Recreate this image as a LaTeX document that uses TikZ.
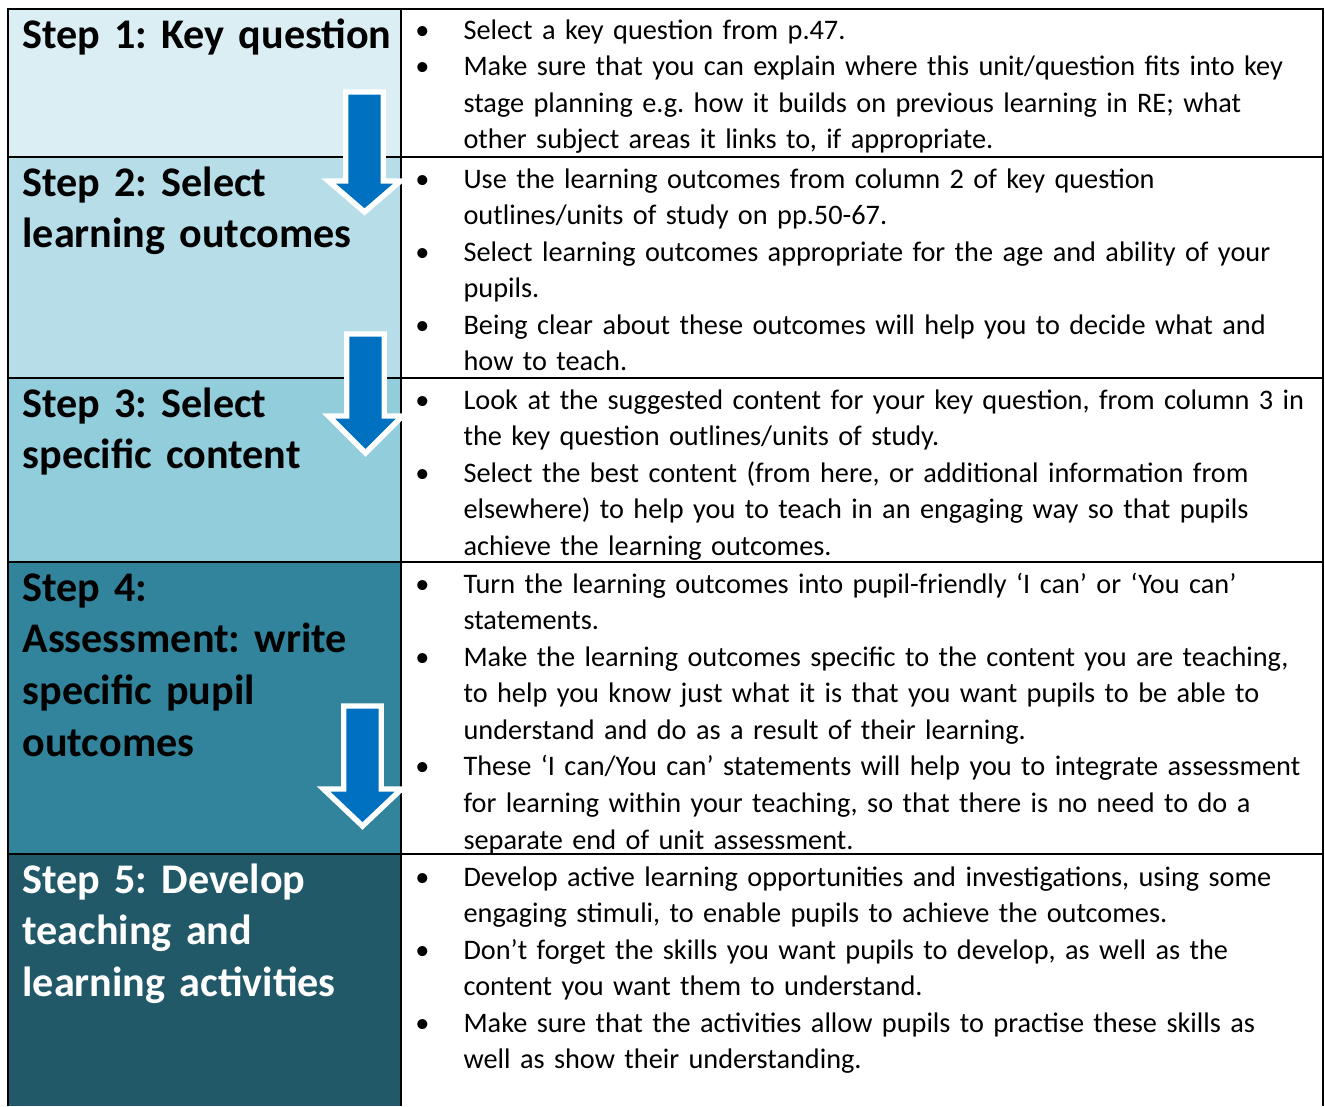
\documentclass[tikz,border=0pt]{standalone}
\usepackage{fontspec}
\setmainfont{Carlito}
\definecolor{rowa}{HTML}{DAEEF3}
\definecolor{rowb}{HTML}{B7DDE8}
\definecolor{rowc}{HTML}{92CDDC}
\definecolor{rowd}{HTML}{31849B}
\definecolor{rowe}{HTML}{215968}
\definecolor{stepblue}{HTML}{0070C0}
\newcommand\firstitm{\noindent\hangindent=22.8pt\hangafter=1\makebox[22.8pt][l]{\hspace*{7.7pt}\makebox[0pt]{\textbullet}}}
\newcommand\itm{\par\firstitm}
\newcommand\nl{\hfil\break}
\tikzset{gridline/.style={black, line width=0.95pt},
 steptitle/.style={anchor=base west, inner sep=0pt, text width=170pt, align=left, font=\fontsize{15.5}{19.1}\selectfont\bfseries\frenchspacing},
 steptext/.style={anchor=base west, inner sep=0pt, text width=360pt, font=\fontsize{10.4}{13.45}\selectfont\frenchspacing},
 stepdown/.style={fill=stepblue, draw=white, line width=2pt, line join=miter}}

\begin{document}
\begin{tikzpicture}[x=0.3676pt, y=-0.3676pt]
  \useasboundingbox (0,0) rectangle (1325,1106);
  % left column fills
  \fill[rowa] (8,9) rectangle (401,157);
  \fill[rowb] (8,157) rectangle (401,378);
  \fill[rowc] (8,378) rectangle (401,562);
  \fill[rowd] (8,562) rectangle (401,854);
  \fill[rowe] (8,854) rectangle (401,1106);
  % table lines
  \draw[gridline] (8,1106) -- (8,9) -- (1323,9) -- (1323,1106);
  \draw[gridline] (401,9) -- (401,1106);
  \draw[gridline] (8,157) -- (1323,157);
  \draw[gridline] (8,378) -- (1323,378);
  \draw[gridline] (8,562) -- (1323,562);
  \draw[gridline] (8,854) -- (1323,854);
  % step titles
  \node[steptitle] (h1) at (22,48) {Step 1: Key question};
  \node[steptitle] (h2) at (22,196) {Step 2: Select\\learning outcomes};
  \node[steptitle] (h3) at (22,417) {Step 3: Select\\specific content};
  \node[steptitle] (h4) at (22,601) {Step 4:\\Assessment: write\\specific pupil\\outcomes};
  \node[steptitle, white] (h5) at (22,893) {Step 5: Develop\\teaching and\\learning activities};
  % step texts
  \node[steptext] (t1) at (401,39) {\firstitm Select a key question from p.47.
    \itm Make sure that you can explain where this unit/question fits into key\nl stage planning e.g. how it builds on previous learning in RE; what\nl other subject areas it links to, if appropriate.\par};
  \node[steptext] (t2) at (401,188) {\firstitm Use the learning outcomes from column 2 of key question\nl outlines/units of study on pp.50-67.
    \itm Select learning outcomes appropriate for the age and ability of your\nl pupils.
    \itm Being clear about these outcomes will help you to decide what and\nl how to teach.\par};
  \node[steptext] (t3) at (401,409) {\firstitm Look at the suggested content for your key question, from column 3 in\nl the key question outlines/units of study.
    \itm Select the best content (from here, or additional information from\nl elsewhere) to help you to teach in an engaging way so that pupils\nl achieve the learning outcomes.\par};
  \node[steptext] (t4) at (401,593) {\firstitm Turn the learning outcomes into pupil-friendly ‘I can’ or ‘You can’\nl statements.
    \itm Make the learning outcomes specific to the content you are teaching,\nl to help you know just what it is that you want pupils to be able to\nl understand and do as a result of their learning.
    \itm These ‘I can/You can’ statements will help you to integrate assessment\nl for learning within your teaching, so that there is no need to do a\nl separate end of unit assessment.\par};
  \node[steptext] (t5) at (401,886) {\firstitm Develop active learning opportunities and investigations, using some\nl engaging stimuli, to enable pupils to achieve the outcomes.
    \itm Don’t forget the skills you want pupils to develop, as well as the\nl content you want them to understand.
    \itm Make sure that the activities allow pupils to practise these skills as\nl well as show their understanding.\par};
  % arrows between steps
  \draw[stepdown] (345.75,92) -- (383.25,92) -- (383.25,181) -- (400.5,181) -- (364.5,212) -- (328.5,181) -- (345.75,181) -- cycle;
  \draw[stepdown] (346.75,334) -- (384.25,334) -- (384.25,416) -- (402.5,416) -- (365.5,453) -- (328.5,416) -- (346.75,416) -- cycle;
  \draw[stepdown] (343.75,706) -- (381.25,706) -- (381.25,789) -- (401.5,789) -- (362.5,826) -- (323.5,789) -- (343.75,789) -- cycle;
\end{tikzpicture}
\end{document}
